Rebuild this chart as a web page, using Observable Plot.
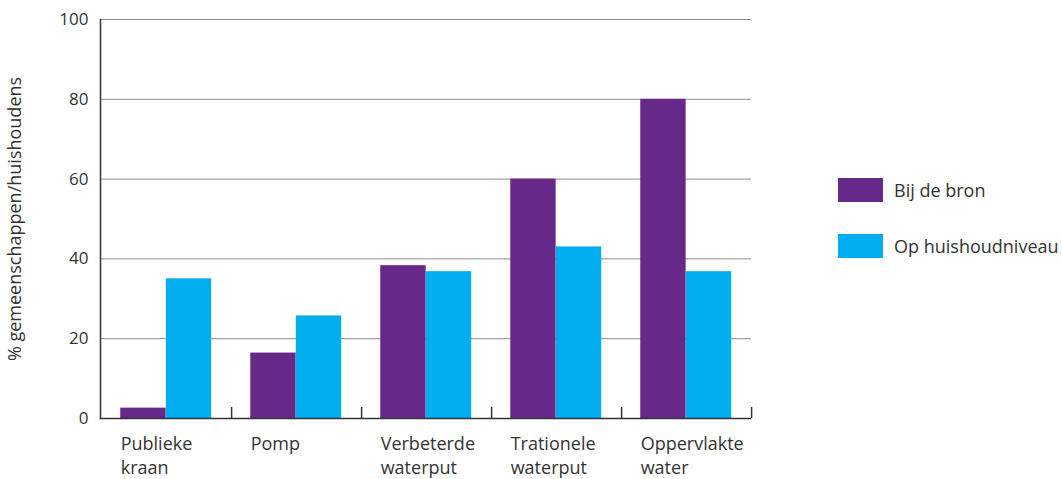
<!DOCTYPE html>
<html><head><meta charset="utf-8">
<script src="https://cdn.jsdelivr.net/npm/d3@7"></script>
<script src="https://cdn.jsdelivr.net/npm/@observablehq/plot@0.6"></script>
<style>
body{margin:0;background:#fff;font-family:"Open Sans",sans-serif;}
#wrap{position:relative;width:1062px;height:479px;}
.legend{position:absolute;left:838px;top:178px;font-size:18px;color:#333;}
.item{display:flex;align-items:center;height:24px;margin-bottom:32px;}
.sw{width:45px;height:24px;margin-right:11px;}
g[aria-label="y-axis label"]{font-size:18px;}
</style></head><body><div id="wrap"></div>
<script>
const categories = ["Publieke\nkraan", "Pomp", "Verbeterde\nwaterput", "Trationele\nwaterput", "Oppervlakte\nwater"];
const series = ["Bij de bron", "Op huishoudniveau"];
const bijDeBron = [2.6, 16.4, 38.3, 60, 80];
const opHuishoudniveau = [35, 25.7, 36.8, 43, 36.8];
const yTicks = [0, 20, 40, 60, 80, 100];
const colors = ["#66298a", "#00aeef"];
const yLabel = "% gemeenschappen/huishoudens";

const W = 1062, H = 479, mL = 100, mR = 311, mT = 19, mB = 61;
const bw = (W - mL - mR) / categories.length;
const barW = bw * 0.35, pad = bw * 0.148;

const data = categories.flatMap((c, i) => [
  {category: c, series: series[0], value: bijDeBron[i]},
  {category: c, series: series[1], value: opHuishoudniveau[i]}
]);

const chart = Plot.plot({
  width: W, height: H, marginLeft: mL, marginRight: mR, marginTop: mT, marginBottom: mB,
  style: {fontFamily: "'Open Sans', sans-serif", fontSize: "17px", color: "#333", background: "#fff"},
  x: {domain: categories, padding: 0},
  y: {domain: [0, 100]},
  color: {domain: series, range: colors},
  marks: [
    Plot.gridY(yTicks, {stroke: "#8c8c8c", strokeOpacity: 1}),
    Plot.barY(data.filter(d => d.series === series[0]), {x: "category", y: "value", fill: "series", insetLeft: pad, insetRight: bw - pad - barW}),
    Plot.barY(data.filter(d => d.series === series[1]), {x: "category", y: "value", fill: "series", insetLeft: pad + barW, insetRight: bw - pad - 2 * barW}),
    Plot.ruleX(categories, {x: d => d, dx: bw / 2, y1: 0, y2: 0, insetTop: -11, stroke: "#333", strokeWidth: 1.5}),
    Plot.ruleY([0], {stroke: "#333", strokeWidth: 1.5}),
    Plot.frame({anchor: "left", stroke: "#333", strokeWidth: 1.5}),
    Plot.axisY(yTicks, {tickSize: 0, tickPadding: 12, label: yLabel, labelAnchor: "center", labelArrow: "none", labelOffset: 92, fontSize: 17}),
    Plot.axisX({tickSize: 0, textAnchor: "start", dx: -bw / 2 + pad, tickPadding: 15, lineHeight: 1.3, label: null, fontSize: 18})
  ]
});
const wrap = document.getElementById("wrap");
wrap.appendChild(chart);

const legend = document.createElement("div");
legend.className = "legend";
series.forEach((s, i) => {
  const item = document.createElement("div");
  item.className = "item";
  const sw = document.createElement("div");
  sw.className = "sw";
  sw.style.background = colors[i];
  const t = document.createElement("span");
  t.textContent = s;
  item.appendChild(sw); item.appendChild(t);
  legend.appendChild(item);
});
wrap.appendChild(legend);
</script></body></html>
